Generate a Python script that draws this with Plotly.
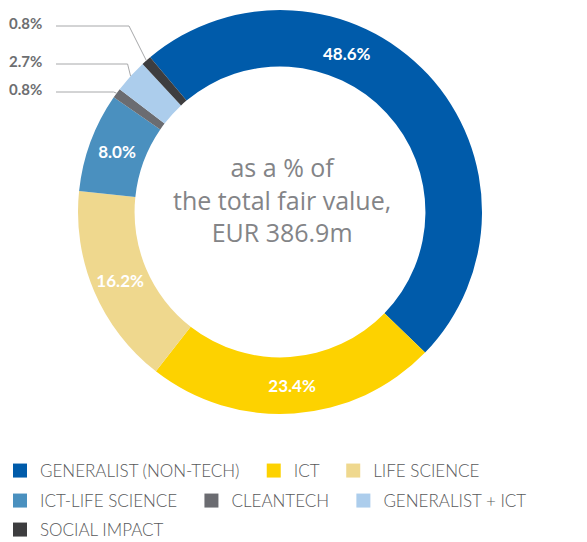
import math
import plotly.graph_objects as go

# Portfolio split by fund category, % of total fair value
categories = ["GENERALIST (NON-TECH)", "ICT", "LIFE SCIENCE", "ICT-LIFE SCIENCE",
              "CLEANTECH", "GENERALIST + ICT", "SOCIAL IMPACT"]
shares = [48.6, 23.4, 16.2, 8.0, 0.8, 2.7, 0.8]
colors = ["#005BAA", "#FDD200", "#EFD88E", "#4A90BF", "#6B6C71", "#ACCDEC", "#3D3D3F"]
center_lines = ["as a % of", "the total fair value,", "EUR 386.9m"]
legend_rows = [[0, 1, 2], [3, 4, 5], [6]]   # category indices per legend row

W, H = 587, 542
CX, CY, R = 280, 212, 202          # donut centre and outer radius in px
HOLE = 0.72
ROTATION = -40
SMALL = 5.0                        # slices below this get a leader label
LABEL_FONT = dict(family="Lato", size=17, color="white", weight="bold")


def px(x):
    return x / W


def py(y):
    return 1 - y / H


def fmt(v):
    return f"{v:.1f}%"


total = sum(shares)
inside_text = ["" if (v < SMALL or i == 0) else fmt(v) for i, v in enumerate(shares)]

fig = go.Figure(go.Pie(
    labels=categories,
    values=shares,
    sort=False,
    direction="clockwise",
    rotation=ROTATION,
    hole=HOLE,
    marker=dict(colors=colors, line=dict(width=0)),
    text=inside_text,
    textinfo="text",
    textposition="inside",
    insidetextorientation="horizontal",
    insidetextfont=LABEL_FONT,
    domain=dict(x=[px(CX - R), px(CX + R)], y=[py(CY + R), py(CY - R)]),
    showlegend=False,
))

# legend: one horizontal legend per row so entries flow at their own widths
legend_names = ["legend", "legend2", "legend3"]
row_centers = [471, 501, 530]
for lname, row in zip(legend_names, legend_rows):
    for i in row:
        fig.add_trace(go.Scatter(
            x=[None], y=[None], mode="markers", name=categories[i] + "\u00a0\u00a0",
            marker=dict(symbol="square", size=14, color=colors[i]),
            legend=lname, showlegend=True, hoverinfo="skip"))

legend_style = dict(
    orientation="h", xanchor="left", yanchor="middle",
    font=dict(family="Lato", size=17, color="#58595B", weight=300),
    itemwidth=30, traceorder="normal", bgcolor="rgba(0,0,0,0)",
)

annotations = []
shapes = []

# largest slice label sits near the top of its arc
annotations.append(dict(
    x=px(347), y=py(53), xref="paper", yref="paper", showarrow=False,
    text=fmt(shares[0]), font=LABEL_FONT, xanchor="center", yanchor="middle"))

# centre caption
annotations.append(dict(
    x=px(282), y=py(199), xref="paper", yref="paper", showarrow=False,
    text="<br>".join(center_lines),
    font=dict(family="Open Sans", size=25, color="#838487"),
    xanchor="center", yanchor="middle", align="center"))

# leader labels for the thin slices, stacked on the left
cum = 0.0
mid_angles = []
for v in shares:
    mid_angles.append(ROTATION + 360 * (cum + v / 2) / total)
    cum += v

small_idx = [i for i, v in enumerate(shares) if v < SMALL]
small_idx.sort(key=lambda i: -mid_angles[i])   # topmost first
label_rows = [23, 61, 89]
for row_y, i in zip(label_rows, small_idx):
    a = math.radians(mid_angles[i])
    ex = CX + R * math.sin(a)
    ey = CY - R * math.cos(a)
    ly = row_y + 3
    knee = min(129, ex - 3)
    annotations.append(dict(
        x=px(7), y=py(row_y), xref="paper", yref="paper", showarrow=False,
        text=fmt(shares[i]), font=dict(family="Lato", size=15, color="#6D6E71", weight="bold"),
        xanchor="left", yanchor="middle"))
    shapes.append(dict(
        type="path", xref="paper", yref="paper",
        path=f"M{px(56)},{py(ly)} L{px(knee)},{py(ly)} L{px(ex)},{py(ey)}",
        line=dict(color="#A7A8AA", width=1)))

layout_legends = {}
for lname, yc in zip(legend_names, row_centers):
    layout_legends[lname] = dict(legend_style, x=0, y=py(yc))

fig.update_layout(
    width=W, height=H,
    margin=dict(l=0, r=0, t=0, b=0, autoexpand=False),
    paper_bgcolor="white", plot_bgcolor="white",
    xaxis=dict(visible=False), yaxis=dict(visible=False),
    annotations=annotations,
    shapes=shapes,
    **layout_legends,
)

fig.write_html("out.html")
